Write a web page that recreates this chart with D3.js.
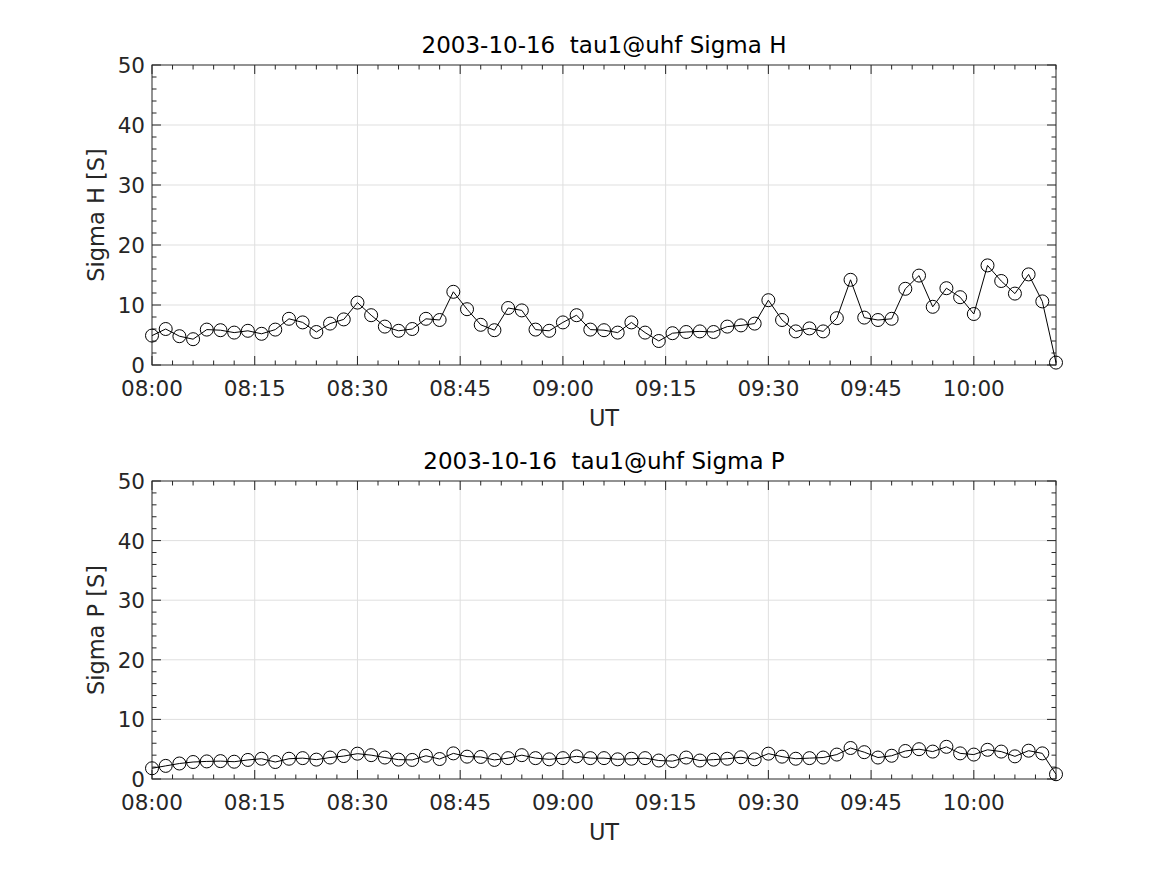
<!DOCTYPE html>
<html>
<head>
<meta charset="utf-8">
<script src="https://cdn.jsdelivr.net/npm/d3@7"></script>
<style>
    body { margin: 0; background: #fff; }
    svg text { font-family: "DejaVu Sans", sans-serif; fill: #262626; white-space: pre; }
</style>
</head>
<body>
<svg id="plot" width="1167" height="875"></svg>
<script>
// sample times (UT)
var times = ["08:00","08:02","08:04","08:06","08:08","08:10","08:12","08:14","08:16","08:18",
    "08:20","08:22","08:24","08:26","08:28","08:30","08:32","08:34","08:36","08:38",
    "08:40","08:42","08:44","08:46","08:48","08:50","08:52","08:54","08:56","08:58",
    "09:00","09:02","09:04","09:06","09:08","09:10","09:12","09:14","09:16","09:18",
    "09:20","09:22","09:24","09:26","09:28","09:30","09:32","09:34","09:36","09:38",
    "09:40","09:42","09:44","09:46","09:48","09:50","09:52","09:54","09:56","09:58",
    "10:00","10:02","10:04","10:06","10:08","10:10","10:12"];

var sigmaH = [4.9, 6.0, 4.8, 4.3, 5.9, 5.8, 5.4, 5.7, 5.2, 5.9,
    7.7, 7.1, 5.5, 6.9, 7.6, 10.4, 8.3, 6.4, 5.7, 6.0,
    7.7, 7.5, 12.2, 9.3, 6.7, 5.8, 9.5, 9.1, 5.9, 5.7,
    7.1, 8.3, 5.9, 5.8, 5.4, 7.1, 5.4, 4.0, 5.3, 5.5,
    5.6, 5.5, 6.4, 6.6, 6.9, 10.8, 7.5, 5.6, 6.1, 5.6,
    7.8, 14.2, 7.9, 7.5, 7.7, 12.7, 14.9, 9.7, 12.8, 11.3,
    8.5, 16.6, 14.0, 11.9, 15.1, 10.6, 0.4];

var sigmaP = [1.8, 2.2, 2.6, 2.85, 2.95, 3.0, 2.9, 3.2, 3.4, 2.85,
    3.4, 3.5, 3.25, 3.6, 3.85, 4.25, 4.0, 3.6, 3.25, 3.2,
    3.9, 3.35, 4.3, 3.75, 3.7, 3.2, 3.5, 4.0, 3.5, 3.3,
    3.5, 3.8, 3.5, 3.5, 3.3, 3.4, 3.5, 3.1, 3.0, 3.6,
    3.1, 3.25, 3.4, 3.65, 3.3, 4.25, 3.75, 3.4, 3.5, 3.6,
    4.1, 5.2, 4.5, 3.6, 3.9, 4.7, 5.0, 4.6, 5.4, 4.3,
    4.1, 4.9, 4.6, 3.8, 4.75, 4.3, 0.8];

var xTicks = ["08:00","08:15","08:30","08:45","09:00","09:15","09:30","09:45","10:00"];
var yTicks = [0, 10, 20, 30, 40, 50];

function toMin(t) {
    let p = t.split(":");
    return (+p[0]) * 60 + (+p[1]);
}

const plot = d3.select("svg#plot");
const left = 152, right = 1056;

function createPanel(top, bottom, values, title, ylabel) {
    let xScale = d3.scaleLinear()
                    .domain([toMin(times[0]), toMin(times[times.length - 1])])
                    .range([left, right]);
    let yScale = d3.scaleLinear()
                    .domain([0, 50])
                    .range([bottom, top]);

    let xMajor = xTicks.map(toMin);
    let xMinor = d3.range(xScale.domain()[0], xScale.domain()[1] + 0.01, 3);
    let yMinor = d3.range(0, 50.01, 2);

    let g = plot.append("g");

    // gridlines
    g.append("g")
        .selectAll("line")
        .data(xMajor.slice(1))
        .join("line")
        .attr("x1", d => xScale(d)).attr("x2", d => xScale(d))
        .attr("y1", top).attr("y2", bottom)
        .style("stroke", "#dfdfdf").style("stroke-width", 1);
    g.append("g")
        .selectAll("line")
        .data(yTicks.slice(1, -1))
        .join("line")
        .attr("x1", left).attr("x2", right)
        .attr("y1", d => yScale(d)).attr("y2", d => yScale(d))
        .style("stroke", "#dfdfdf").style("stroke-width", 1);

    // ticks, all inward, on all four sides
    let ticks = g.append("g").style("stroke", "#262626").style("stroke-width", 1);
    xMinor.forEach(d => {
        let len = xMajor.includes(d) ? 9 : 4.5;
        ticks.append("line").attr("x1", xScale(d)).attr("x2", xScale(d))
            .attr("y1", bottom).attr("y2", bottom - len);
        ticks.append("line").attr("x1", xScale(d)).attr("x2", xScale(d))
            .attr("y1", top).attr("y2", top + len);
    });
    yMinor.forEach(d => {
        let len = yTicks.includes(d) ? 9 : 4.5;
        ticks.append("line").attr("x1", left).attr("x2", left + len)
            .attr("y1", yScale(d)).attr("y2", yScale(d));
        ticks.append("line").attr("x1", right).attr("x2", right - len)
            .attr("y1", yScale(d)).attr("y2", yScale(d));
    });

    // box
    g.append("rect")
        .attr("x", left).attr("y", top)
        .attr("width", right - left).attr("height", bottom - top)
        .style("fill", "none").style("stroke", "#262626").style("stroke-width", 1);

    // tick labels
    g.append("g")
        .selectAll("text")
        .data(xTicks)
        .join("text")
        .attr("x", d => xScale(toMin(d)))
        .attr("y", bottom + 31)
        .style("text-anchor", "middle")
        .style("font-size", "21.5px")
        .text(d => d);
    g.append("g")
        .selectAll("text")
        .data(yTicks)
        .join("text")
        .attr("x", left - 7)
        .attr("y", d => yScale(d) + 8)
        .style("text-anchor", "end")
        .style("font-size", "21.5px")
        .text(d => d);

    // labels
    g.append("text")
        .attr("x", (left + right) / 2)
        .attr("y", bottom + 61)
        .style("text-anchor", "middle")
        .style("font-size", "22.5px")
        .text("UT");
    g.append("text")
        .attr("transform", "translate(104," + ((top + bottom) / 2) + ") rotate(-90)")
        .style("text-anchor", "middle")
        .style("font-size", "22.5px")
        .text(ylabel);
    g.append("text")
        .attr("x", (left + right) / 2)
        .attr("y", top - 12)
        .style("text-anchor", "middle")
        .style("font-size", "23px")
        .style("fill", "#000")
        .text(title);

    // data line + markers
    let pts = times.map((t, i) => [xScale(toMin(t)), yScale(values[i])]);
    g.append("path")
        .attr("d", d3.line()(pts))
        .style("fill", "none")
        .style("stroke", "#000")
        .style("stroke-width", 1);
    g.append("g")
        .selectAll("circle")
        .data(pts)
        .join("circle")
        .attr("cx", d => d[0])
        .attr("cy", d => d[1])
        .attr("r", 6.5)
        .style("fill", "none")
        .style("stroke", "#000")
        .style("stroke-width", 1);
}

createPanel(65, 365, sigmaH, "2003-10-16  tau1@uhf Sigma H", "Sigma H [S]");
createPanel(481, 779, sigmaP, "2003-10-16  tau1@uhf Sigma P", "Sigma P [S]");
</script>
</body>
</html>
